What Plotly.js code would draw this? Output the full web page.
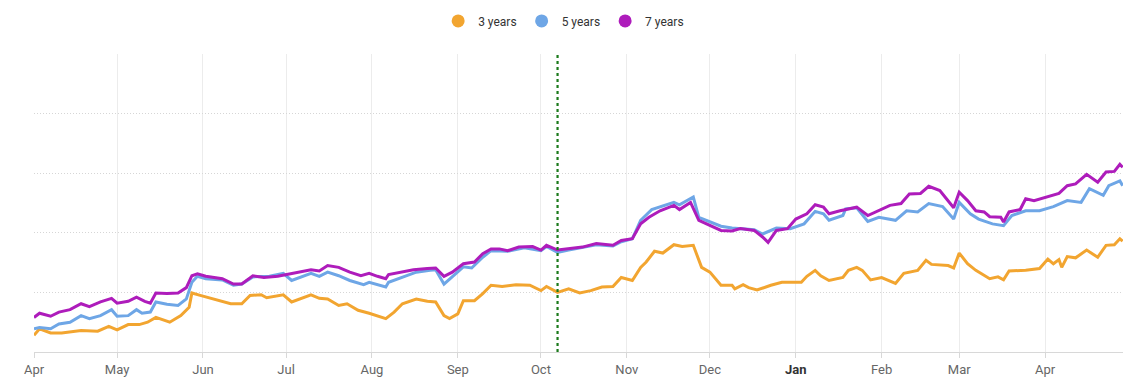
<!DOCTYPE html>
<html>
<head>
<meta charset="utf-8">
<script src="https://cdn.plot.ly/plotly-3.0.1.min.js"></script>
<style>
html,body{margin:0;padding:0;background:#fff;}
#chart{width:1141px;height:388px;}
</style>
</head>
<body>
<div id="chart"></div>
<script>
// ---- data ----
const seriesNames = ["3 years", "5 years", "7 years"];
const seriesColors = ["#F2A530", "#6EA6E6", "#AE1CBB"];

const dates3 = ["2022-04-01","2022-04-03","2022-04-07","2022-04-11","2022-04-18","2022-04-24","2022-04-28","2022-05-01","2022-05-05","2022-05-09","2022-05-12","2022-05-15","2022-05-20","2022-05-24","2022-05-27","2022-05-28","2022-05-31","2022-06-05","2022-06-11","2022-06-15","2022-06-18","2022-06-22","2022-06-24","2022-06-30","2022-07-03","2022-07-10","2022-07-13","2022-07-16","2022-07-20","2022-07-23","2022-07-27","2022-07-31","2022-08-03","2022-08-06","2022-08-09","2022-08-12","2022-08-17","2022-08-21","2022-08-24","2022-08-27","2022-08-29","2022-09-01","2022-09-03","2022-09-07","2022-09-10","2022-09-13","2022-09-17","2022-09-22","2022-09-27","2022-10-01","2022-10-03","2022-10-07","2022-10-11","2022-10-15","2022-10-19","2022-10-23","2022-10-27","2022-10-30","2022-11-03","2022-11-06","2022-11-08","2022-11-11","2022-11-14","2022-11-18","2022-11-21","2022-11-25","2022-11-28","2022-12-01","2022-12-05","2022-12-09","2022-12-10","2022-12-13","2022-12-15","2022-12-18","2022-12-23","2022-12-27","2023-01-03","2023-01-05","2023-01-08","2023-01-10","2023-01-13","2023-01-18","2023-01-20","2023-01-23","2023-01-25","2023-01-28","2023-02-01","2023-02-06","2023-02-09","2023-02-14","2023-02-17","2023-02-19","2023-02-25","2023-02-27","2023-03-01","2023-03-04","2023-03-07","2023-03-12","2023-03-15","2023-03-17","2023-03-19","2023-03-25","2023-03-30","2023-04-02","2023-04-04","2023-04-06","2023-04-07","2023-04-09","2023-04-12","2023-04-16","2023-04-20","2023-04-23","2023-04-26","2023-04-28","2023-04-29"];
const values3 = [0.28,0.39,0.32,0.32,0.36,0.35,0.43,0.37,0.46,0.46,0.50,0.58,0.50,0.61,0.75,0.99,0.95,0.89,0.81,0.81,0.95,0.96,0.91,0.96,0.84,0.96,0.90,0.89,0.78,0.81,0.70,0.65,0.61,0.56,0.67,0.81,0.89,0.85,0.84,0.61,0.56,0.64,0.86,0.86,0.98,1.12,1.10,1.13,1.12,1.03,1.10,1.00,1.06,0.99,1.03,1.09,1.10,1.25,1.20,1.42,1.51,1.69,1.66,1.80,1.77,1.79,1.42,1.34,1.12,1.12,1.06,1.13,1.08,1.04,1.12,1.17,1.17,1.27,1.37,1.28,1.20,1.25,1.37,1.42,1.37,1.21,1.25,1.15,1.32,1.37,1.54,1.47,1.45,1.41,1.66,1.48,1.37,1.23,1.26,1.21,1.36,1.37,1.40,1.56,1.48,1.55,1.42,1.60,1.58,1.71,1.59,1.79,1.80,1.90,1.86];

const dates5 = ["2022-04-01","2022-04-03","2022-04-07","2022-04-10","2022-04-14","2022-04-18","2022-04-21","2022-04-25","2022-04-29","2022-05-01","2022-05-05","2022-05-08","2022-05-10","2022-05-13","2022-05-15","2022-05-19","2022-05-23","2022-05-26","2022-05-28","2022-05-30","2022-06-02","2022-06-08","2022-06-12","2022-06-15","2022-06-19","2022-06-25","2022-06-30","2022-07-03","2022-07-10","2022-07-13","2022-07-16","2022-07-20","2022-07-24","2022-07-29","2022-07-31","2022-08-04","2022-08-06","2022-08-07","2022-08-12","2022-08-17","2022-08-22","2022-08-24","2022-08-27","2022-08-30","2022-09-03","2022-09-06","2022-09-10","2022-09-13","2022-09-19","2022-09-25","2022-10-01","2022-10-03","2022-10-07","2022-10-11","2022-10-16","2022-10-21","2022-10-27","2022-10-30","2022-11-03","2022-11-06","2022-11-10","2022-11-18","2022-11-20","2022-11-25","2022-11-27","2022-12-05","2022-12-09","2022-12-17","2022-12-20","2022-12-25","2022-12-30","2023-01-04","2023-01-08","2023-01-11","2023-01-13","2023-01-18","2023-01-19","2023-01-23","2023-01-27","2023-01-31","2023-02-06","2023-02-10","2023-02-14","2023-02-18","2023-02-23","2023-02-27","2023-03-01","2023-03-05","2023-03-08","2023-03-13","2023-03-17","2023-03-20","2023-03-25","2023-03-30","2023-04-04","2023-04-09","2023-04-14","2023-04-17","2023-04-22","2023-04-24","2023-04-28","2023-04-29"];
const values5 = [0.39,0.41,0.39,0.47,0.50,0.61,0.56,0.61,0.71,0.60,0.61,0.71,0.65,0.67,0.84,0.80,0.78,0.89,1.17,1.27,1.23,1.21,1.12,1.14,1.26,1.27,1.32,1.20,1.32,1.27,1.34,1.28,1.20,1.13,1.17,1.12,1.09,1.17,1.26,1.34,1.37,1.38,1.14,1.26,1.43,1.41,1.59,1.70,1.69,1.75,1.70,1.77,1.67,1.71,1.75,1.80,1.78,1.85,1.90,2.21,2.39,2.51,2.47,2.60,2.26,2.11,2.08,2.05,1.98,2.08,2.07,2.15,2.36,2.32,2.21,2.29,2.40,2.42,2.19,2.26,2.21,2.37,2.35,2.49,2.44,2.23,2.51,2.32,2.23,2.15,2.12,2.29,2.37,2.37,2.44,2.54,2.51,2.74,2.63,2.79,2.87,2.79];

const dates7 = ["2022-04-01","2022-04-03","2022-04-07","2022-04-10","2022-04-14","2022-04-18","2022-04-21","2022-04-25","2022-04-29","2022-05-01","2022-05-05","2022-05-08","2022-05-11","2022-05-13","2022-05-15","2022-05-19","2022-05-23","2022-05-26","2022-05-28","2022-05-30","2022-06-02","2022-06-08","2022-06-12","2022-06-15","2022-06-19","2022-06-23","2022-06-28","2022-07-02","2022-07-10","2022-07-13","2022-07-16","2022-07-20","2022-07-24","2022-07-28","2022-07-31","2022-08-03","2022-08-06","2022-08-07","2022-08-12","2022-08-16","2022-08-21","2022-08-24","2022-08-27","2022-08-30","2022-09-03","2022-09-07","2022-09-10","2022-09-13","2022-09-16","2022-09-19","2022-09-23","2022-09-28","2022-10-01","2022-10-03","2022-10-07","2022-10-11","2022-10-16","2022-10-21","2022-10-27","2022-10-30","2022-11-03","2022-11-06","2022-11-09","2022-11-13","2022-11-18","2022-11-20","2022-11-24","2022-11-27","2022-12-01","2022-12-05","2022-12-09","2022-12-12","2022-12-17","2022-12-20","2022-12-22","2022-12-25","2022-12-29","2023-01-01","2023-01-05","2023-01-08","2023-01-11","2023-01-13","2023-01-17","2023-01-19","2023-01-23","2023-01-27","2023-01-31","2023-02-04","2023-02-08","2023-02-11","2023-02-15","2023-02-18","2023-02-22","2023-02-25","2023-02-27","2023-03-01","2023-03-04","2023-03-07","2023-03-10","2023-03-12","2023-03-16","2023-03-17","2023-03-19","2023-03-23","2023-03-25","2023-03-28","2023-04-02","2023-04-06","2023-04-09","2023-04-12","2023-04-16","2023-04-20","2023-04-23","2023-04-26","2023-04-28","2023-04-29"];
const values7 = [0.58,0.65,0.60,0.67,0.71,0.81,0.76,0.84,0.90,0.82,0.85,0.92,0.85,0.82,0.99,0.98,0.99,1.08,1.28,1.31,1.27,1.23,1.14,1.14,1.28,1.25,1.27,1.31,1.38,1.36,1.45,1.42,1.34,1.28,1.32,1.27,1.23,1.30,1.34,1.38,1.40,1.41,1.27,1.34,1.48,1.51,1.65,1.73,1.73,1.70,1.76,1.77,1.71,1.79,1.71,1.73,1.76,1.82,1.79,1.87,1.90,2.15,2.26,2.37,2.46,2.39,2.51,2.21,2.12,2.04,2.03,2.07,2.04,1.93,1.84,2.04,2.07,2.23,2.32,2.47,2.43,2.32,2.37,2.39,2.43,2.29,2.37,2.46,2.49,2.65,2.66,2.78,2.71,2.54,2.42,2.68,2.54,2.37,2.35,2.27,2.26,2.18,2.35,2.39,2.57,2.54,2.60,2.66,2.79,2.82,2.98,2.85,3.02,3.03,3.15,3.10];

const monthTicks = ["2022-04-01","2022-05-01","2022-06-01","2022-07-01","2022-08-01","2022-09-01","2022-10-01","2022-11-01","2022-12-01","2023-01-01","2023-02-01","2023-03-01","2023-04-01"];
const monthLabels = ["Apr","May","Jun","Jul","Aug","Sep","Oct","Nov","Dec","<b style=\"color:#333\">Jan</b>","Feb","Mar","Apr"];
const markerDate = "2022-10-07";
const xStart = "2022-04-01";
const xEnd = "2023-04-29 03:00";

// ---- traces ----
const allDates = [dates3, dates5, dates7];
const allValues = [values3, values5, values7];
const traces = [];
for (let i = 0; i < 3; i++) {
  traces.push({
    type: "scatter", mode: "lines",
    x: allDates[i], y: allValues[i],
    line: {color: seriesColors[i], width: 3},
    showlegend: false, hoverinfo: "skip", name: seriesNames[i]
  });
}
for (let i = 0; i < 3; i++) {
  traces.push({
    type: "scatter", mode: "markers",
    x: [null], y: [null],
    marker: {color: seriesColors[i], size: 13, symbol: "circle"},
    name: seriesNames[i], showlegend: true
  });
}

const layout = {
  width: 1141, height: 388,
  margin: {l: 34, r: 18, t: 54, b: 36},
  paper_bgcolor: "#fff", plot_bgcolor: "#fff",
  font: {family: "Roboto, Arial, sans-serif", color: "#666", size: 13},
  showlegend: true,
  legend: {
    orientation: "h", xref: "container", yref: "container",
    x: 0.494, xanchor: "center", y: 0.946, yanchor: "middle",
    font: {size: 12, color: "#333"}, itemwidth: 30, tracegroupgap: 0
  },
  xaxis: {
    type: "date", range: [xStart, xEnd],
    tickvals: monthTicks, ticktext: monthLabels,
    showgrid: true, gridcolor: "#ececec", gridwidth: 1,
    showline: true, linecolor: "#d8d8d8", linewidth: 1,
    ticks: "outside", ticklen: 5, tickcolor: "#d8d8d8",
    zeroline: false, tickfont: {size: 13, color: "#666"}
  },
  yaxis: {
    range: [0, 5], dtick: 1, tick0: 0,
    showticklabels: false, showgrid: true, gridcolor: "#d6d6d6", griddash: "1px,2px",
    zeroline: false, showline: false, ticks: ""
  },
  shapes: [{
    type: "line", xref: "x", yref: "paper",
    x0: markerDate, x1: markerDate, y0: 0, y1: 1,
    line: {color: "#1b7a1b", width: 2.2, dash: "dot"}
  }]
};

Plotly.newPlot("chart", traces, layout, {displayModeBar: false, staticPlot: true});
</script>
</body>
</html>
